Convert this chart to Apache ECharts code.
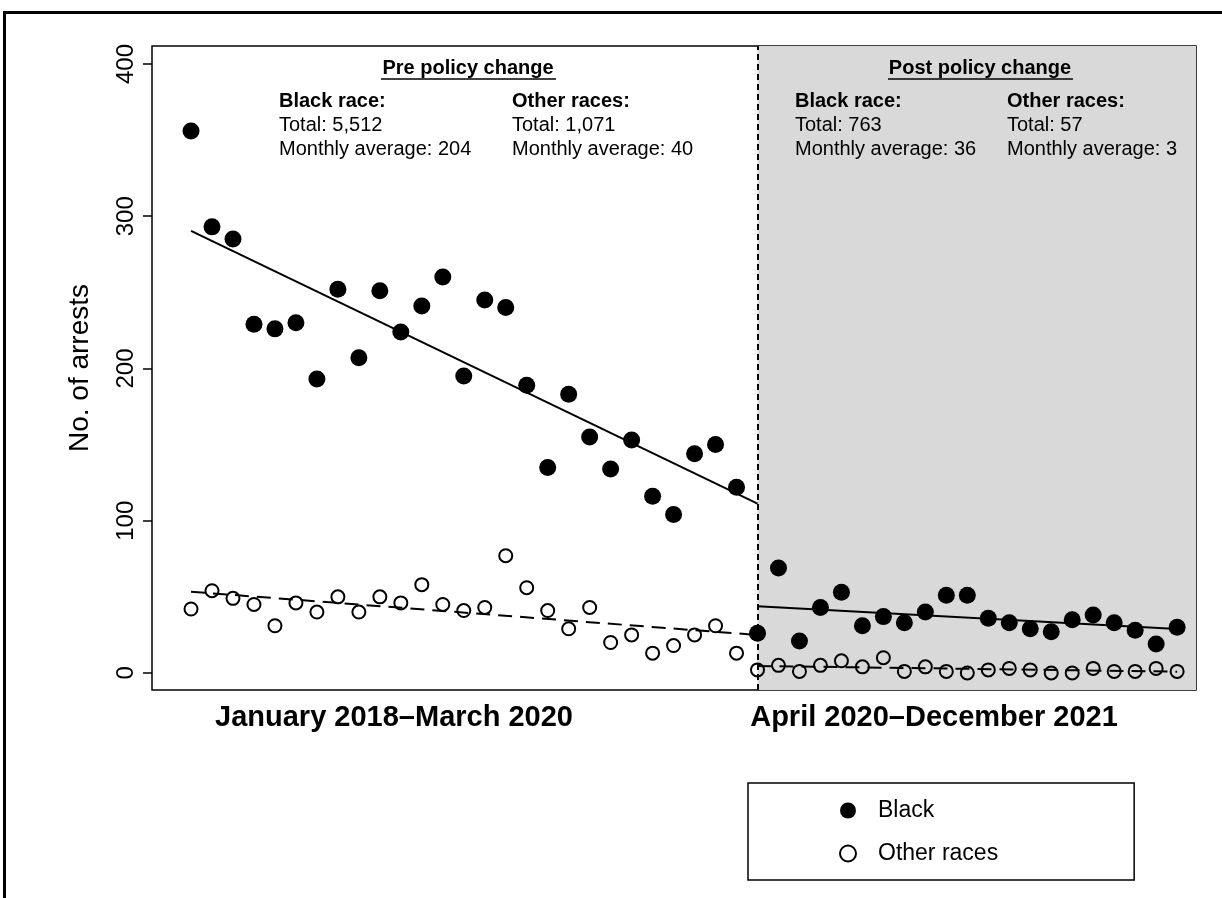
<!DOCTYPE html>
<html>
<head>
<meta charset="utf-8">
<script src="https://cdn.jsdelivr.net/npm/echarts@6/dist/echarts.min.js"></script>
<style>
  html, body { margin: 0; padding: 0; background: #fff; }
  #main { position: absolute; left: 0; top: 0; width: 1222px; height: 898px; }
  #frame { position: absolute; left: 3px; top: 11px; right: 0; bottom: 0;
           border-top: 3px solid #000; border-left: 3px solid #000; pointer-events: none; }
</style>
</head>
<body>
<div id="main"></div>
<div id="frame"></div>
<script>
// monthly arrests, Jan 2018 - Mar 2020 (pre) and Apr 2020 - Dec 2021 (post)
var blackPre  = [356, 293, 285, 229, 226, 230, 193, 252, 207, 251, 224, 241, 260, 195, 245, 240, 189, 135, 183, 155, 134, 153, 116, 104, 144, 150, 122];
var otherPre  = [42, 54, 49, 45, 31, 46, 40, 50, 40, 50, 46, 58, 45, 41, 43, 77, 56, 41, 29, 43, 20, 25, 13, 18, 25, 31, 13];
var blackPost = [26, 69, 21, 43, 53, 31, 37, 33, 40, 51, 51, 36, 33, 29, 27, 35, 38, 33, 28, 19, 30];
var otherPost = [2, 5, 1, 5, 8, 4, 10, 1, 4, 1, 0, 2, 3, 2, 0, 0, 3, 1, 1, 3, 1];

var yTicks = [0, 100, 200, 300, 400];
var periods = ['January 2018\u2013March 2020', 'April 2020\u2013December 2021'];
var phaseTitles = ['Pre policy change', 'Post policy change'];
var blackTotals = ['5,512', '763'];
var blackAverages = ['204', '36'];
var otherTotals = ['1,071', '57'];
var otherAverages = ['40', '3'];

var FONT = '"Liberation Sans", Arial, Helvetica, sans-serif';
var breakX = blackPre.length;               // first post-policy month
var lastX = breakX + blackPost.length - 1;
var xMin = -1.86, xMax = 47.9;

function toPoints(vals, start) {
    return vals.map(function (v, i) { return [start + i, v]; });
}

// least squares fit, returned as two end points
function fitLine(vals, start, x0, x1) {
    var n = vals.length, sx = 0, sy = 0, sxx = 0, sxy = 0;
    vals.forEach(function (v, i) {
        var x = start + i;
        sx += x; sy += v; sxx += x * x; sxy += x * v;
    });
    var b = (n * sxy - sx * sy) / (n * sxx - sx * sx);
    var a = (sy - b * sx) / n;
    return [[x0, a + b * x0], [x1, a + b * x1]];
}

function trend(data, dashed) {
    return {
        type: 'line', data: data, symbol: 'none', z: 2, silent: true,
        lineStyle: { color: '#000', width: 2, type: dashed ? [14, 8] : 'solid' }
    };
}

function txt(x, y, s, bold, align, size) {
    return {
        type: 'text', x: x, y: y, z: 100, silent: true,
        style: {
            text: s, fill: '#000', font: (bold ? 'bold ' : '') + (size || 20) + 'px ' + FONT,
            align: align || 'left', verticalAlign: 'middle',
            textAlign: align || 'left', textVerticalAlign: 'middle'
        }
    };
}

function uline(x1, x2, y) {
    return { type: 'line', z: 100, silent: true, shape: { x1: x1, y1: y, x2: x2, y2: y },
             style: { stroke: '#000', lineWidth: 1.5 } };
}

var graphics = [
    txt(468, 68, phaseTitles[0], true, 'center'), uline(381, 556, 79),
    txt(980, 68, phaseTitles[1], true, 'center'), uline(888, 1073, 79),

    txt(279, 101, 'Black race:', true), txt(279, 125, 'Total: ' + blackTotals[0]),
    txt(279, 149, 'Monthly average: ' + blackAverages[0]),
    txt(512, 101, 'Other races:', true), txt(512, 125, 'Total: ' + otherTotals[0]),
    txt(512, 149, 'Monthly average: ' + otherAverages[0]),

    txt(795, 101, 'Black race:', true), txt(795, 125, 'Total: ' + blackTotals[1]),
    txt(795, 149, 'Monthly average: ' + blackAverages[1]),
    txt(1007, 101, 'Other races:', true), txt(1007, 125, 'Total: ' + otherTotals[1]),
    txt(1007, 149, 'Monthly average: ' + otherAverages[1]),

    txt(394, 718, periods[0], true, 'center', 29),
    txt(934, 718, periods[1], true, 'center', 29)
];

var chart = echarts.init(document.getElementById('main'), null, { renderer: 'canvas' });
var option = {
    animation: false,
    backgroundColor: '#fff',
    textStyle: { fontFamily: FONT, color: '#000' },
    grid: {
        left: 152, right: 26, top: 46, bottom: 208,
        show: true, borderColor: '#000', borderWidth: 1.5,
        outerBoundsMode: 'none'
    },
    xAxis: { type: 'value', min: xMin, max: xMax, show: false },
    yAxis: {
        type: 'value', min: -11.2, max: 411.8,
        axisLine: { show: false, onZero: false },
        splitLine: { show: false },
        axisTick: { show: true, customValues: yTicks, length: 9, lineStyle: { color: '#000', width: 1.5 } },
        axisLabel: { customValues: yTicks, rotate: 90, margin: 14, fontSize: 24, color: '#000', fontFamily: FONT },
        name: 'No. of arrests', nameLocation: 'middle', nameRotate: 90, nameGap: 58,
        nameTextStyle: { fontSize: 28, color: '#000', fontFamily: FONT }
    },
    legend: {
        orient: 'vertical', left: 748, top: 783,
        padding: [16, 136, 15, 91], itemGap: 20,
        itemWidth: 50, itemHeight: 16,
        borderColor: '#000', borderWidth: 1.5, borderRadius: 0,
        backgroundColor: '#fff',
        textStyle: { fontSize: 23, color: '#000', fontFamily: FONT },
        selectedMode: false,
        data: [
            { name: 'Black', icon: 'circle' },
            { name: 'Other races', icon: 'circle' }
        ]
    },
    graphic: graphics,
    series: [
        {
            type: 'line', data: [], z: 0, silent: true,
            markArea: {
                silent: true, itemStyle: { color: '#d9d9d9' },
                data: [[{ xAxis: breakX }, { xAxis: xMax }]]
            }
        },
        trend(fitLine(blackPre, 0, 0, breakX), false),
        trend(fitLine(otherPre, 0, 0, breakX), true),
        trend(fitLine(blackPost, breakX, breakX, lastX), false),
        trend(fitLine(otherPost, breakX, breakX, lastX), true),
        {
            name: 'Black', type: 'scatter', z: 3, symbol: 'circle', symbolSize: 17,
            itemStyle: { color: '#000', opacity: 1 },
            data: toPoints(blackPre, 0).concat(toPoints(blackPost, breakX))
        },
        {
            name: 'Other races', type: 'scatter', z: 3, symbol: 'circle', symbolSize: 13,
            itemStyle: { color: 'rgba(0,0,0,0)', borderColor: '#000', borderWidth: 2, opacity: 1 },
            data: toPoints(otherPre, 0).concat(toPoints(otherPost, breakX))
        },
        {
            type: 'line', data: [], z: 5, silent: true,
            markLine: {
                silent: true, symbol: ['none', 'none'], label: { show: false },
                lineStyle: { color: '#000', width: 2, type: [6, 4] },
                data: [{ xAxis: breakX }]
            }
        }
    ]
};
chart.setOption(option);
window.onresize = chart.resize;
</script>
</body>
</html>
